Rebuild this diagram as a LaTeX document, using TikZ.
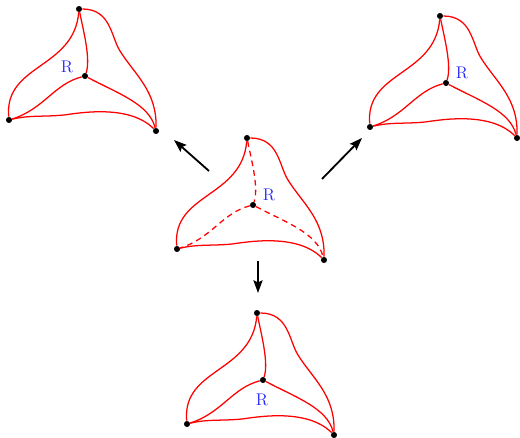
\documentclass[tikz,border=0pt]{standalone}
\usetikzlibrary{arrows.meta}
\begin{document}
\begin{tikzpicture}[x=0.025cm,y=-0.025cm,edge/.style={red,line width=0.9pt},vtx/.style={circle,fill,inner sep=0pt,minimum size=4.3pt},lbl/.style={text=blue!85,font=\large},hidden/.style={dash pattern=on 4pt off 3pt}]
\useasboundingbox (0,0) rectangle (520,438);
\foreach \n/\dx/\dy/\st/\lx/\ly in {c/247/138/hidden/22/57,a/79/9/solid/-12/58,b/440/16/solid/22/57,d/257/313/solid/5/87}{
\begin{scope}[shift={(\dx,\dy)}]
\node[vtx] (t\n) at (0,0) {};\node[vtx] (l\n) at (-70,111) {};\node[vtx] (r\n) at (77,122) {};\node[vtx] (p\n) at (6,67) {};
\node[lbl] (R\n) at (\lx,\ly) {R};
\draw[edge] (t\n) .. controls +(-5,60) and +(-5,-56) .. (l\n);
\draw[edge] (t\n) .. controls +(32,0) and (32,28) .. (41,42) .. controls (56,66) and +(1,-40) .. (r\n);
\draw[edge] (l\n) .. controls +(20,-5) and (-35,108) .. (-15,106) .. controls (0,104) and (50,95) .. (r\n);
\draw[edge,\st] (t\n) .. controls +(4,20) and +(6,-17) .. (p\n);
\draw[edge,\st] (p\n) .. controls +(-31,8) and +(35,-11) .. (l\n);
\draw[edge,\st] (p\n) .. controls +(34,18) and +(-7,-27) .. (r\n);
\end{scope}}
% arrows out of the middle one
\coordinate (s1) at (209,171);\coordinate (e1) at (174,140);\coordinate (s2) at (322,179);\coordinate (e2) at (362,138);\coordinate (s3) at (258,261);\coordinate (e3) at (258,293);
\foreach \i in {1,2,3}{\draw[line width=1.3pt,-{Stealth[length=9pt,width=6.5pt,inset=1.5pt]}] (s\i) -- (e\i);}
\end{tikzpicture}
\end{document}
